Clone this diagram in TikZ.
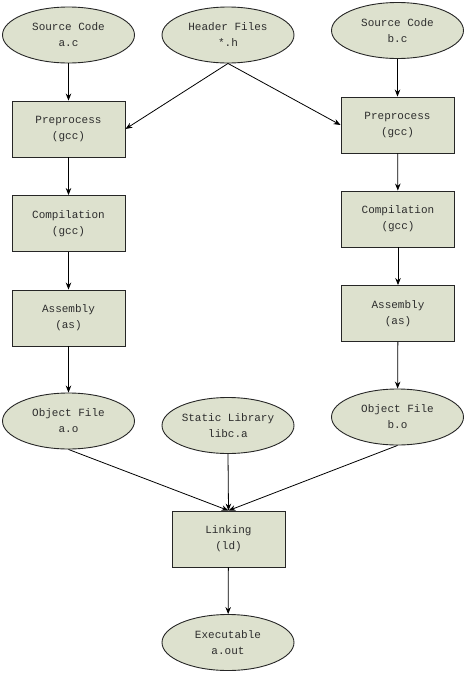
\documentclass[tikz,border=0pt]{standalone}
\usepackage{fontspec}
\newfontfamily\diagfont{Liberation Mono}
\usetikzlibrary{shapes.geometric,arrows.meta}
\definecolor{boxfill}{RGB}{221,225,206}
\definecolor{txt}{RGB}{45,45,45}
\tikzset{
  base/.style={draw=black!85, line width=0.9pt, fill=boxfill, text=txt, align=center,
    inner sep=0pt, font=\diagfont\fontsize{11}{16}\selectfont},
  oval/.style={base, ellipse, minimum width=132pt, minimum height=56pt},
  stepbox/.style={base, rectangle, minimum width=113pt, minimum height=56pt},
  conn/.style={draw=black, line width=0.8pt, -{Stealth[length=7pt,width=5.5pt]}}
}
\begin{document}
\begin{tikzpicture}[x=1pt,y=-1pt]
\fill[white] (0,0) rectangle (467,675);
\useasboundingbox (0,0) rectangle (467,675);
\node[oval] (srcA) at (68.5,35) {Source Code\\a.c};
\node[oval] (hdr) at (228,35) {Header Files\\*.h};
\node[oval] (srcB) at (397.5,30.5) {Source Code\\b.c};
\node[stepbox] (preA) at (68.5,129) {Preprocess\\(gcc)};
\node[stepbox] (preB) at (397.5,125) {Preprocess\\(gcc)};
\node[stepbox] (compA) at (68.5,223.5) {Compilation\\(gcc)};
\node[stepbox] (compB) at (398,219) {Compilation\\(gcc)};
\node[stepbox] (asmA) at (68.5,318) {Assembly\\(as)};
\node[stepbox] (asmB) at (398,313.5) {Assembly\\(as)};
\node[oval] (objA) at (68.5,421) {Object File\\a.o};
\node[oval] (lib) at (228,425.5) {Static Library\\libc.a};
\node[oval] (objB) at (397.5,417) {Object File\\b.o};
\node[stepbox] (link) at (228.5,539) {Linking\\(ld)};
\node[oval] (exe) at (228,642.5) {Executable\\a.out};
\draw[conn] (srcA) -- (preA);
\draw[conn] (srcB) -- (preB);
\draw[conn] (hdr.south) -- (preA.east);
\draw[conn] (hdr.south) -- (preB.west);
\draw[conn] (preA) -- (compA);
\draw[conn] (compA) -- (asmA);
\draw[conn] (asmA) -- (objA);
\draw[conn] (preB) -- (compB);
\draw[conn] (compB) -- (asmB);
\draw[conn] (asmB) -- (objB);
\draw[conn] (objA.south) -- (link.north);
\draw[conn] (lib.south) -- (link.north);
\draw[conn] (objB.south) -- (link.north);
\draw[conn] (link) -- (exe);
\end{tikzpicture}
\end{document}
